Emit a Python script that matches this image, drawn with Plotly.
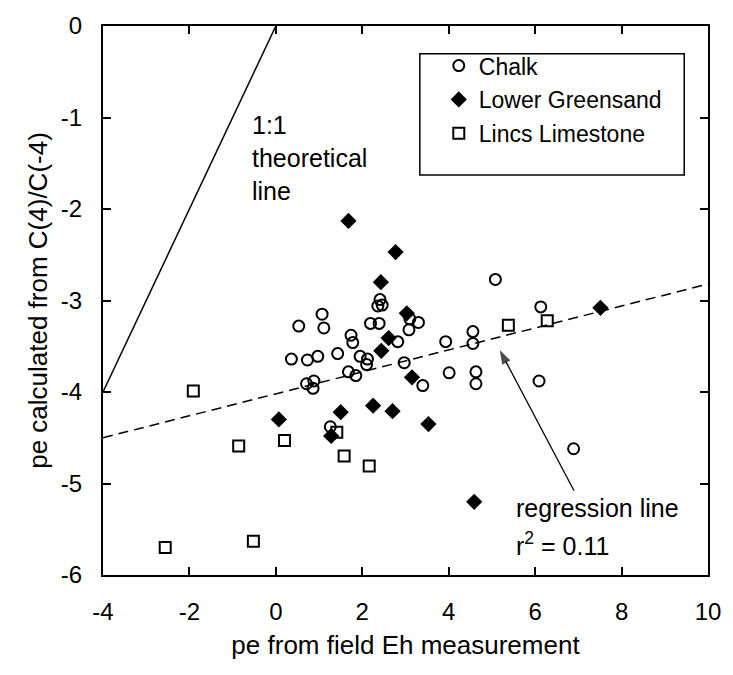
import plotly.graph_objects as go

# ---- data ----
chalk_x = [0.53, 1.07, 1.11, 0.36, 0.73, 0.97, 1.43, 1.74, 1.78, 1.95, 2.12, 2.10, 1.68, 1.85,
           0.71, 0.88, 0.86, 2.19, 2.39, 2.41, 2.36, 2.46, 3.10, 3.30, 3.08, 2.82, 2.97, 3.40,
           3.93, 4.56, 4.56, 4.01, 4.63, 4.63, 5.08, 6.13, 6.09, 6.89, 1.26]
chalk_y = [-3.28, -3.15, -3.30, -3.64, -3.65, -3.61, -3.58, -3.38, -3.46, -3.61, -3.64, -3.70, -3.78, -3.82,
           -3.91, -3.88, -3.96, -3.25, -3.25, -2.99, -3.06, -3.05, -3.20, -3.24, -3.32, -3.45, -3.68, -3.93,
           -3.45, -3.34, -3.47, -3.79, -3.78, -3.91, -2.77, -3.07, -3.88, -4.62, -4.38]

greensand_x = [1.68, 2.77, 2.43, 3.03, 2.61, 2.44, 3.15, 7.51, 0.07, 1.50, 2.25, 2.70, 3.53, 1.28, 4.59]
greensand_y = [-2.13, -2.47, -2.80, -3.14, -3.41, -3.55, -3.84, -3.08, -4.30, -4.22, -4.15, -4.21, -4.35, -4.48, -5.20]

lincs_x = [-1.91, -0.86, 0.20, -2.56, -0.52, 1.41, 1.58, 2.16, 5.38, 6.28]
lincs_y = [-3.99, -4.59, -4.53, -5.70, -5.63, -4.44, -4.70, -4.81, -3.27, -3.22]

# 1:1 theoretical line and regression line
one_to_one_x = [-4, 0]
one_to_one_y = [-4, 0]
reg_intercept = -4.02
reg_slope = 0.12
reg_x = [-4, 10]
reg_y = [reg_intercept + reg_slope * v for v in reg_x]

# pointer from the label to the regression line (tail, head)
arrow_x = [6.90, 5.18]
arrow_y = [-5.08, -3.54]

x_ticks = [-4, -2, 0, 2, 4, 6, 8, 10]
y_ticks = [0, -1, -2, -3, -4, -5, -6]

FONT = "Liberation Sans, Arial, sans-serif"

fig = go.Figure()

fig.add_trace(go.Scatter(x=one_to_one_x, y=one_to_one_y, mode="lines",
                         line=dict(color="black", width=1.5), showlegend=False, hoverinfo="skip"))
fig.add_trace(go.Scatter(x=reg_x, y=reg_y, mode="lines",
                         line=dict(color="black", width=1.5, dash="10px,6px"),
                         showlegend=False, hoverinfo="skip"))
fig.add_trace(go.Scatter(x=arrow_x, y=arrow_y, mode="lines+markers",
                         line=dict(color="black", width=1.3),
                         marker=dict(symbol=["circle", "arrow"], size=[0, 15], color="black",
                                     angleref="previous", line=dict(width=0)),
                         showlegend=False, hoverinfo="skip"))

fig.add_trace(go.Scatter(x=chalk_x, y=chalk_y, mode="markers", name="Chalk", legendgroup="a",
                         marker=dict(symbol="circle-open", size=11, color="black", line=dict(width=2))))
fig.add_trace(go.Scatter(x=greensand_x, y=greensand_y, mode="markers", name="Lower Greensand", legendgroup="b",
                         marker=dict(symbol="diamond", size=12.5, color="black", line=dict(width=0))))
fig.add_trace(go.Scatter(x=lincs_x, y=lincs_y, mode="markers", name="Lincs Limestone", legendgroup="c",
                         marker=dict(symbol="square-open", size=11, color="black", line=dict(width=2))))

axis_common = dict(showgrid=False, zeroline=False, showline=True, linecolor="black", linewidth=2,
                   mirror="allticks", ticks="inside", ticklen=8, tickwidth=2, tickcolor="black",
                   tickfont=dict(family=FONT, size=24, color="black"))

fig.update_xaxes(range=[-4, 10], tickvals=x_ticks, ticktext=[str(v) for v in x_ticks],
                 title=dict(text="pe from field Eh measurement", font=dict(family=FONT, size=26, color="black"),
                            standoff=12),
                 ticklabelstandoff=14, **axis_common)
fig.update_yaxes(range=[-6, 0], tickvals=y_ticks, ticktext=[str(v) for v in y_ticks],
                 title=dict(text="pe calculated from C(4)/C(-4)", font=dict(family=FONT, size=26, color="black"),
                            standoff=6),
                 ticklabelstandoff=14, **axis_common)

annots = [
    dict(x=-0.60, y=-1.08, text="1:1"),
    dict(x=-0.60, y=-1.44, text="theoretical"),
    dict(x=-0.60, y=-1.80, text="line"),
    dict(x=5.52, y=-5.27, text="regression line"),
    dict(x=5.52, y=-5.66, text="r<sup>2</sup> = 0.11"),
]
for a in annots:
    a.update(xref="x", yref="y", xanchor="left", yanchor="middle", showarrow=False,
             font=dict(family=FONT, size=25, color="black"))
fig.update_layout(annotations=annots)

# legend frame
fig.add_shape(type="rect", xref="paper", yref="paper", x0=0.5237, x1=0.9607, y0=0.7284, y1=0.9496,
              line=dict(color="black", width=1.5), fillcolor="rgba(0,0,0,0)")

fig.update_layout(
    width=733, height=675,
    margin=dict(l=103, r=19, t=20, b=100),
    paper_bgcolor="white", plot_bgcolor="white",
    font=dict(family=FONT, size=23, color="black"),
    showlegend=True,
    legend=dict(x=0.555, y=0.967, xanchor="left", yanchor="top", bgcolor="rgba(0,0,0,0)",
                borderwidth=0, traceorder="grouped", tracegroupgap=1,
                font=dict(family=FONT, size=23, color="black"), itemwidth=30),
)

fig.write_html("out.html")
